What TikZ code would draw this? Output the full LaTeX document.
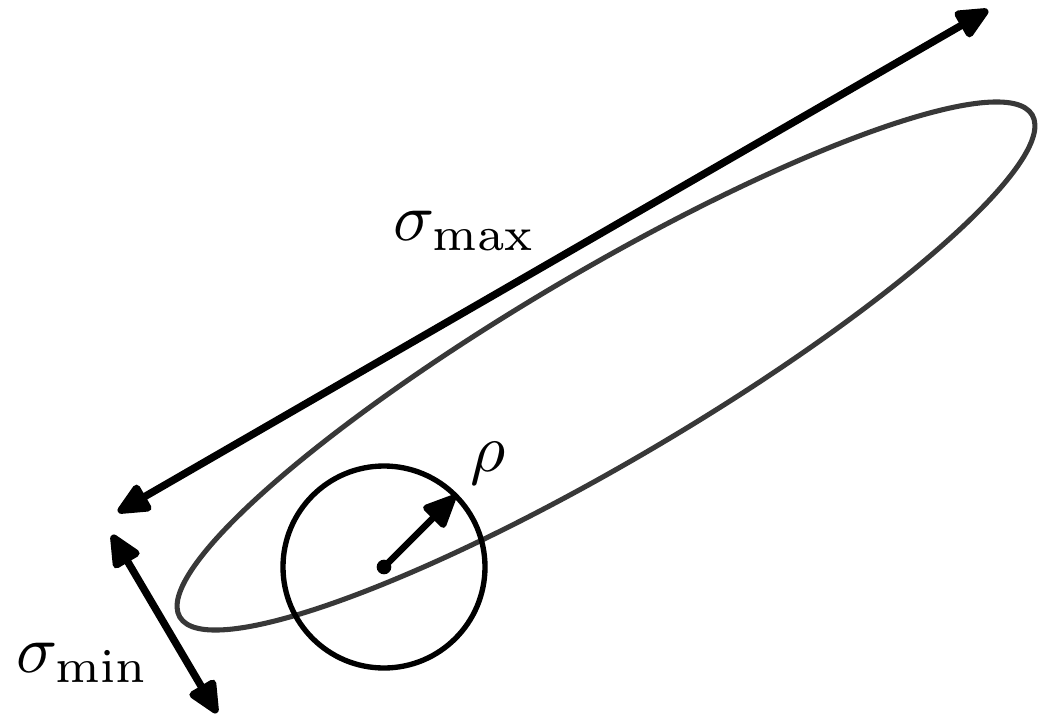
\documentclass[tikz,border=0pt]{standalone}
\usepackage{amsmath,tikz}
\usetikzlibrary{arrows.meta,calc}

\begin{document}
\begin{tikzpicture}[x=0.75pt,y=-0.75pt,>={Triangle[length=28pt,width=24pt,round]},
  axis arrow/.style={line width=5.6pt,<->},
  label text/.style={scale=5.1,inner sep=0pt,anchor=base west}]
\useasboundingbox (0,0) rectangle (1039,714);
% Centre of the ellipse and of the circle.
\coordinate (ec) at (606,366);
\coordinate (cc) at (384,567);
% The ellipse, tilted along the long axis.
\draw[black!78,line width=3.8pt,rotate around={30.5:(ec)}] (ec) ellipse [x radius=371pt,y radius=71pt];
\draw[line width=4pt] (cc) circle (75.75pt);
% Radius of the circle.
\coordinate (rim) at ($(cc)+(45:75.75pt)$);
\fill (cc) circle (5.5pt);
\draw[->,line width=4.8pt] (cc) -- (rim);
% Long and short extents.
\coordinate (a1) at (118,512);
\coordinate (a2) at (988,10);
\coordinate (b1) at (112,535);
\coordinate (b2) at (217,713);
\draw[axis arrow] (a1) -- (a2);
\draw[axis arrow] (b1) -- (b2);
\node[label text] (smax) at (392,240) {$\sigma_{\max}$};
\node[label text] (smin) at (15,672) {$\sigma_{\min}$};
\node[label text] (rho) at (469,471) {$\rho$};
\end{tikzpicture}
\end{document}
